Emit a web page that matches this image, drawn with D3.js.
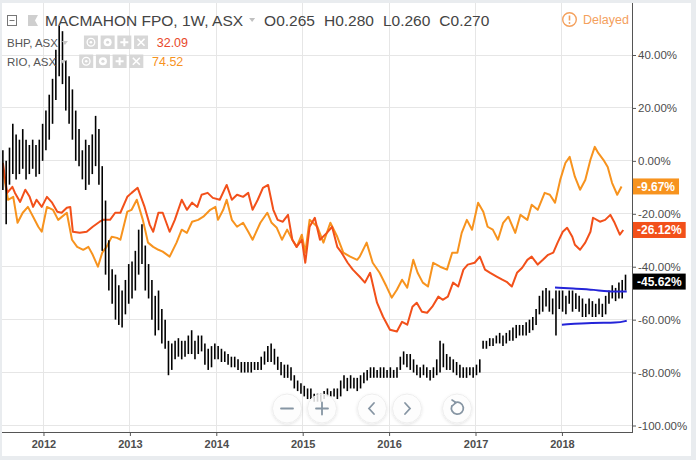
<!DOCTYPE html>
<html><head><meta charset="utf-8">
<script src="https://cdn.jsdelivr.net/npm/d3@7"></script>
<style>
html,body{margin:0;padding:0;background:#e9ecef;overflow:hidden;}
svg{display:block;font-family:"Liberation Sans",Arial,sans-serif;}
</style></head><body>
<svg id="c" width="696" height="460"></svg>
<script>
// ---------- data ----------
const yearTicks = [2012, 2013, 2014, 2015, 2016, 2017, 2018];
const pctTicks = [40, 20, 0, -20, -40, -60, -80, -100];

// MACMAHON FPO weekly bars (sampled every 2 weeks), % change, from 2011.53
const barStartYear = 2011.53;
const barStepDays = 14;
const mmHigh = [4,0,5,14,10,8,12,8,6,8,
  6,8,14,19,25,31,42,51,49,38,
  32,27,19,12,4,8,6,10,17,12,
  -2,-15,-30,-41,-43,-47,-49,-45,-39,-38,
  -34,-26,-24,-32,-39,-45,-51,-49,-56,-60,
  -68,-69,-68,-67,-68,-68,-66,-64,-68,-66,
  -66,-69,-71,-70,-69,-70,-71,-72,-73,-74,
  -74,-75,-76,-76,-76,-76,-76,-76,-74,-72,
  -70,-69,-71,-74,-76,-77,-77,-78,-81,-83,
  -84,-85,-86,-86,-88,-88,-88,-87,-86,-87,
  -86,-86,-83,-81,-82,-81,-82,-82,-81,-80,
  -79,-78,-78,-79,-78,-78,-79,-78,-79,-78,
  -74,-72,-73,-73,-75,-77,-78,-77,-78,-79,
  -78,-75,-68,-69,-73,-74,-75,-76,-77,-78,
  -78,-78,-78,-77,-75,-68,-68,-67,-67,-66,
  -65,-66,-65,-64,-63,-62,-62,-62,-61,-60,
  -59,-56,-51,-49,-48,-49,-52,-49,-49,-49,
  -51,-49,-49,-50,-51,-52,-54,-52,-53,-54,
  -52,-54,-51,-49,-47,-48,-46,-45,-43];
const mmLow = [-11,-24,-9,-5,-7,-5,-3,-7,-5,-3,
  -6,-5,0,4,8,14,23,32,29,19,
  14,8,0,-2,-7,-11,-9,-5,-2,-9,
  -34,-43,-49,-54,-60,-62,-63,-58,-54,-52,
  -49,-43,-39,-49,-52,-60,-66,-64,-69,-71,
  -81,-79,-75,-74,-75,-74,-73,-73,-75,-73,
  -72,-77,-79,-78,-75,-75,-76,-76,-77,-78,
  -78,-79,-80,-80,-80,-80,-79,-79,-79,-77,
  -76,-76,-77,-79,-81,-82,-82,-83,-86,-87,
  -88,-89,-90,-90,-91,-91,-91,-90,-89,-89,
  -89,-90,-89,-86,-87,-86,-86,-87,-86,-84,
  -83,-82,-82,-82,-82,-82,-82,-82,-82,-82,
  -79,-77,-78,-79,-80,-81,-82,-81,-82,-83,
  -82,-81,-80,-78,-79,-79,-80,-81,-82,-82,
  -82,-81,-82,-81,-80,-71,-71,-70,-70,-69,
  -69,-70,-69,-68,-68,-67,-66,-66,-66,-65,
  -64,-62,-58,-57,-55,-57,-58,-66,-56,-57,
  -58,-54,-57,-56,-57,-59,-59,-58,-59,-59,
  -58,-59,-58,-54,-52,-53,-52,-52,-49];
const mmLastClose = -45.62;

// BHP, ASX (% change)  [decimal year, %]
const bhp = [[2011.53,-0.8],[2011.58,-12.1],[2011.64,-9.8],[2011.67,-12.1],[2011.73,-15.5],[2011.79,-10.9],[2011.84,-13.6],[2011.88,-17.4],[2011.92,-14.7],[2011.98,-17.4],
[2012.04,-13.6],[2012.10,-15.8],[2012.16,-19.2],[2012.21,-19.6],[2012.27,-17.7],[2012.31,-17.4],[2012.34,-26.8],[2012.42,-27.2],[2012.50,-26.8],[2012.57,-24.9],
[2012.65,-23.0],[2012.69,-22.3],[2012.77,-22.3],[2012.83,-19.6],[2012.89,-19.6],[2012.97,-13.6],[2013.02,-12.1],[2013.09,-10.2],[2013.17,-17.4],[2013.23,-24.2],
[2013.27,-26.8],[2013.33,-19.6],[2013.38,-19.6],[2013.46,-26.8],[2013.52,-22.3],[2013.60,-14.7],[2013.66,-18.5],[2013.72,-15.8],[2013.78,-17.4],[2013.83,-12.8],
[2013.90,-12.1],[2013.96,-14.0],[2014.04,-14.7],[2014.12,-9.1],[2014.18,-14.7],[2014.24,-12.8],[2014.31,-13.6],[2014.37,-12.1],[2014.42,-18.5],[2014.48,-14.7],
[2014.54,-10.2],[2014.60,-9.1],[2014.66,-18.5],[2014.71,-22.3],[2014.77,-23.0],[2014.83,-20.4],[2014.88,-29.8],[2014.93,-32.5],[2014.99,-29.8],[2015.03,-38.5],
[2015.08,-24.9],[2015.14,-21.5],[2015.20,-29.8],[2015.28,-27.2],[2015.34,-24.9],[2015.40,-32.5],[2015.45,-34.7],[2015.52,-38.5],[2015.58,-41.1],[2015.66,-43.8],
[2015.72,-46.0],[2015.78,-42.3],[2015.86,-53.6],[2015.93,-58.9],[2016.01,-63.8],[2016.09,-64.5],[2016.15,-60.8],[2016.21,-61.9],[2016.27,-55.1],[2016.32,-53.6],
[2016.38,-57.0],[2016.44,-57.4],[2016.50,-55.1],[2016.57,-51.3],[2016.62,-52.5],[2016.68,-51.3],[2016.74,-46.0],[2016.80,-47.5],[2016.86,-41.1],[2016.91,-39.2],
[2016.99,-38.5],[2017.05,-36.2],[2017.11,-41.1],[2017.17,-42.3],[2017.25,-43.8],[2017.31,-44.9],[2017.36,-45.7],[2017.42,-47.5],[2017.48,-42.3],[2017.54,-40.4],
[2017.60,-37.4],[2017.65,-36.2],[2017.72,-39.2],[2017.78,-37.4],[2017.84,-35.5],[2017.90,-34.7],[2017.95,-30.9],[2018.01,-26.8],[2018.06,-25.3],[2018.12,-28.7],
[2018.15,-31.7],[2018.21,-33.6],[2018.27,-30.9],[2018.33,-26.8],[2018.36,-21.5],[2018.44,-23.0],[2018.50,-22.3],[2018.56,-20.4],[2018.61,-23.4],[2018.67,-27.9],[2018.71,-26.12]];

// RIO, ASX (% change)  [decimal year, %]
const rio = [[2011.53,-3.4],[2011.59,-14.7],[2011.65,-13.6],[2011.70,-23.4],[2011.76,-19.6],[2011.82,-17.4],[2011.88,-21.1],[2011.94,-24.9],[2011.98,-26.8],
[2012.04,-17.4],[2012.11,-18.5],[2012.17,-22.3],[2012.27,-19.6],[2012.33,-29.8],[2012.39,-32.5],[2012.46,-33.6],[2012.52,-32.5],[2012.57,-35.5],[2012.63,-40.0],
[2012.68,-34.7],[2012.73,-32.5],[2012.79,-28.7],[2012.85,-29.1],[2012.89,-29.8],[2012.97,-19.2],[2013.02,-18.5],[2013.08,-14.7],[2013.15,-22.3],[2013.21,-30.9],
[2013.27,-32.5],[2013.33,-33.6],[2013.38,-34.3],[2013.46,-36.2],[2013.54,-30.9],[2013.60,-26.0],[2013.66,-27.2],[2013.72,-23.0],[2013.79,-22.3],[2013.85,-21.1],
[2013.93,-18.5],[2013.99,-17.4],[2014.02,-22.3],[2014.08,-18.5],[2014.12,-14.7],[2014.18,-22.3],[2014.24,-24.9],[2014.31,-23.4],[2014.37,-26.8],[2014.42,-29.8],
[2014.51,-23.4],[2014.59,-19.6],[2014.64,-23.4],[2014.70,-25.3],[2014.76,-29.8],[2014.82,-26.0],[2014.88,-29.8],[2014.93,-32.5],[2014.99,-27.9],[2015.03,-34.7],
[2015.08,-22.3],[2015.17,-24.9],[2015.24,-30.9],[2015.32,-23.4],[2015.40,-28.7],[2015.47,-34.7],[2015.55,-36.2],[2015.63,-37.4],[2015.66,-36.2],[2015.74,-30.9],
[2015.81,-38.5],[2015.89,-42.3],[2015.97,-47.5],[2016.03,-51.7],[2016.09,-48.7],[2016.15,-44.9],[2016.21,-47.9],[2016.28,-37.4],[2016.33,-42.3],[2016.39,-46.0],
[2016.45,-47.5],[2016.51,-38.5],[2016.59,-40.0],[2016.67,-41.1],[2016.73,-34.7],[2016.79,-34.7],[2016.84,-27.2],[2016.90,-22.3],[2016.96,-26.0],[2017.03,-15.8],
[2017.09,-19.2],[2017.14,-24.9],[2017.20,-26.0],[2017.26,-29.8],[2017.32,-23.4],[2017.38,-21.1],[2017.46,-27.2],[2017.52,-20.4],[2017.60,-22.3],[2017.65,-16.6],
[2017.72,-18.5],[2017.80,-12.1],[2017.86,-12.8],[2017.92,-15.8],[2017.98,-7.2],[2018.04,-0.8],[2018.09,1.5],[2018.15,-6.0],[2018.21,-10.9],[2018.27,-7.2],
[2018.33,0.4],[2018.38,5.3],[2018.42,3.0],[2018.48,0.4],[2018.53,-2.3],[2018.58,-8.3],[2018.64,-12.8],[2018.69,-9.67]];

// drawn channel lines (blue)
const channelUpper = [[2017.92,-47.9],[2018.17,-48.3],[2018.38,-48.7],[2018.52,-49.4],[2018.75,-49.4]];
const channelLower = [[2018.00,-61.9],[2018.36,-61.1],[2018.64,-61.3],[2018.75,-60.4]];

const titleText = "MACMAHON FPO, 1W, ASX";
const ohlcLetters = ["O", "H", "L", "C"];
const ohlcValues = ["0.265", "0.280", "0.260", "0.270"];
const legendNames = ["BHP, ASX", "RIO, ASX"];
const legendValues = ["32.09", "74.52"];
const lastValues = [-9.67, -26.12, mmLastClose];

// ---------- styles ----------
const C_BHP = "#f2501a", C_RIO = "#f7931e", C_MM = "#000000", C_BLUE = "#2424d8";
const C_GRID = "#e6e6e6", C_AXIS = "#555555", C_TEXT = "#4d4d4d";
const plot = {l: 2, r: 632, t: 3, b: 432};

const svg = d3.select("#c");
svg.append("rect").attr("x", 2).attr("y", 3).attr("width", 689).attr("height", 453).attr("fill", "#fff");

const defs = svg.append("defs");
defs.append("clipPath").attr("id", "clip").append("rect")
  .attr("x", plot.l).attr("y", plot.t).attr("width", plot.r - plot.l).attr("height", plot.b - plot.t);
const f = defs.append("filter").attr("id", "sh").attr("x", "-50%").attr("y", "-50%").attr("width", "200%").attr("height", "200%");
f.append("feDropShadow").attr("dx", 0).attr("dy", 1).attr("stdDeviation", 1.5).attr("flood-color", "#000").attr("flood-opacity", 0.12);

const x = d3.scaleLinear().domain([2011.52, 2018.811]).range([plot.l, plot.r]);
const y = d3.scaleLinear().domain([-100, 40]).range([425.5, 55]);

// grid
const grid = svg.append("g");
grid.selectAll(".vg").data(yearTicks).join("line")
  .attr("x1", d => x(d)).attr("x2", d => x(d)).attr("y1", plot.t).attr("y2", plot.b)
  .attr("stroke", C_GRID).attr("stroke-width", 1).attr("shape-rendering", "crispEdges");
grid.selectAll(".hg").data(pctTicks).join("line")
  .attr("x1", plot.l).attr("x2", plot.r).attr("y1", d => y(d)).attr("y2", d => y(d))
  .attr("stroke", C_GRID).attr("stroke-width", 1).attr("shape-rendering", "crispEdges");

// series
const g = svg.append("g").attr("clip-path", "url(#clip)");
const line = d3.line().x(d => x(d[0])).y(d => y(d[1]));
g.append("path").datum(rio).attr("d", line).attr("fill", "none").attr("stroke", C_RIO)
  .attr("stroke-width", 2).attr("stroke-linejoin", "round");
g.append("path").datum(bhp).attr("d", line).attr("fill", "none").attr("stroke", C_BHP)
  .attr("stroke-width", 2).attr("stroke-linejoin", "round");

const bars = mmHigh.map((h, i) => ({t: barStartYear + i * barStepDays / 365.25, h: h, l: mmLow[i]}));
g.selectAll(".bar").data(bars).join("line")
  .attr("x1", d => x(d.t)).attr("x2", d => x(d.t))
  .attr("y1", d => y(d.h)).attr("y2", d => y(d.l))
  .attr("stroke", C_MM).attr("stroke-width", 1.6);

g.append("path").datum(channelUpper).attr("d", d3.line().curve(d3.curveBasis).x(d => x(d[0])).y(d => y(d[1])))
  .attr("fill", "none").attr("stroke", C_BLUE).attr("stroke-width", 2);
g.append("path").datum(channelLower).attr("d", d3.line().curve(d3.curveBasis).x(d => x(d[0])).y(d => y(d[1])))
  .attr("fill", "none").attr("stroke", C_BLUE).attr("stroke-width", 2);

// axes
const xAxis = svg.append("g").attr("transform", `translate(0,${plot.b})`)
  .call(d3.axisBottom(x).tickValues(yearTicks).tickFormat(d3.format("d")).tickSize(4).tickSizeOuter(0).tickPadding(4));
xAxis.select(".domain").remove();
xAxis.selectAll("line").attr("stroke", C_AXIS);
xAxis.selectAll("text").attr("fill", C_TEXT).attr("font-size", 11).attr("font-weight", "bold")
  .attr("font-family", "'Liberation Sans', Arial, sans-serif");
svg.append("line").attr("x1", plot.l).attr("x2", plot.r + 0.5).attr("y1", plot.b + 0.5).attr("y2", plot.b + 0.5)
  .attr("stroke", C_AXIS).attr("stroke-width", 1);

const yAxis = svg.append("g").attr("transform", `translate(${plot.r},0)`)
  .call(d3.axisRight(y).tickValues(pctTicks).tickFormat(d => d.toFixed(2) + "%").tickSize(4).tickSizeOuter(0).tickPadding(2));
yAxis.select(".domain").remove();
yAxis.selectAll("line").attr("stroke", C_AXIS);
yAxis.selectAll("text").attr("fill", C_TEXT).attr("font-size", 11.5)
  .attr("font-family", "'Liberation Sans', Arial, sans-serif");
svg.append("line").attr("x1", plot.r + 0.5).attr("x2", plot.r + 0.5).attr("y1", plot.t).attr("y2", plot.b + 1)
  .attr("stroke", C_AXIS).attr("stroke-width", 1);

// last value labels
const lastColors = [C_RIO, C_BHP, "#000"];
lastValues.forEach((v, i) => {
  const lg = svg.append("g");
  const t = lg.append("text").attr("x", plot.r + 5).attr("y", y(v)).attr("dy", "0.35em")
    .attr("fill", "#fff").attr("font-size", 12).attr("font-weight", "bold")
    .text(v.toFixed(2) + "%");
  const w = t.node().getComputedTextLength();
  lg.insert("rect", "text").attr("x", plot.r + 1).attr("y", y(v) - 8).attr("width", w + 8).attr("height", 16)
    .attr("fill", lastColors[i]);
});

// header
const hd = svg.append("g");
hd.append("rect").attr("x", 7.5).attr("y", 15.5).attr("width", 9).attr("height", 10).attr("fill", "none").attr("stroke", "#777");
hd.append("line").attr("x1", 9.5).attr("x2", 14.5).attr("y1", 20.5).attr("y2", 20.5).attr("stroke", "#777");
hd.append("path").attr("d", "M28,15 H38 L35,20.5 L38,26 H28 Z").attr("fill", "#cfcfcf");
const title = hd.append("text").attr("x", 45).attr("y", 26).attr("font-size", 15.5).attr("fill", "#444").text(titleText);
let tx = 45 + title.node().getComputedTextLength() + 6;
hd.append("path").attr("d", `M${tx},18 l6,0 l-3,4 z`).attr("fill", "#c0c0c0");
tx += 15;
ohlcLetters.forEach((L, i) => {
  const t = hd.append("text").attr("x", tx).attr("y", 26).attr("font-size", 15.5).attr("fill", "#444")
    .text(L + ohlcValues[i]);
  tx += t.node().getComputedTextLength() + 9;
});

// legend rows
const legendColors = ["#e8482a", C_RIO];
legendNames.forEach((nm, i) => {
  const by = 47 + i * 19;
  const t = svg.append("text").attr("x", 7).attr("y", by).attr("font-size", 11.5).attr("fill", "#555").text(nm);
  let lx = 7 + t.node().getComputedTextLength() + 4;
  svg.append("path").attr("d", `M${lx},${by - 6} l6,0 l-3,4 z`).attr("fill", "#c8c8c8");
  lx += 19 + (i === 0 ? 3 : 0);
  for (let k = 0; k < 4; k++) {
    const bx = lx + k * 16.7, byy = by - 11.5;
    svg.append("rect").attr("x", bx).attr("y", byy).attr("width", 14).attr("height", 13.5).attr("fill", "#d7d7d7");
    const cx = bx + 7, cy = byy + 6.75;
    if (k === 0) {
      svg.append("circle").attr("cx", cx).attr("cy", cy).attr("r", 3.8).attr("fill", "none").attr("stroke", "#fff").attr("stroke-width", 1.3);
      svg.append("circle").attr("cx", cx).attr("cy", cy).attr("r", 1.3).attr("fill", "#fff");
    } else if (k === 1) {
      svg.append("circle").attr("cx", cx).attr("cy", cy).attr("r", 4).attr("fill", "#fff");
      svg.append("circle").attr("cx", cx).attr("cy", cy).attr("r", 1.6).attr("fill", "#d7d7d7");
    } else if (k === 2) {
      svg.append("path").attr("d", `M${cx - 4},${cy} H${cx + 4} M${cx},${cy - 4} V${cy + 4}`).attr("stroke", "#fff").attr("stroke-width", 2);
    } else {
      svg.append("path").attr("d", `M${cx - 3.5},${cy - 3.5} L${cx + 3.5},${cy + 3.5} M${cx + 3.5},${cy - 3.5} L${cx - 3.5},${cy + 3.5}`).attr("stroke", "#fff").attr("stroke-width", 1.6);
    }
  }
  lx += 4 * 16.7 + 6;
  svg.append("text").attr("x", lx).attr("y", by).attr("font-size", 12.5).attr("fill", legendColors[i]).text(legendValues[i]);
});

// delayed badge
const C_DEL = "#f4a05c";
svg.append("circle").attr("cx", 569.5).attr("cy", 19.5).attr("r", 6.8).attr("fill", "none").attr("stroke", C_DEL).attr("stroke-width", 1.4);
svg.append("line").attr("x1", 569.5).attr("x2", 569.5).attr("y1", 15.5).attr("y2", 20.5).attr("stroke", C_DEL).attr("stroke-width", 1.6);
svg.append("circle").attr("cx", 569.5).attr("cy", 23).attr("r", 0.9).attr("fill", C_DEL);
svg.append("text").attr("x", 583).attr("y", 24).attr("font-size", 12.5).attr("fill", C_DEL).text("Delayed");

// navigation buttons
const navX = [287, 322, 372, 407, 457], navY = 408.5;
const C_NAV = "#8695a3";
navX.forEach((cx, i) => {
  svg.append("circle").attr("cx", cx).attr("cy", navY).attr("r", 14.5)
    .attr("fill", "rgba(255,255,255,0.82)").attr("stroke", "#eeeeee").attr("filter", "url(#sh)");
  let d;
  if (i === 0) d = `M${cx - 6},${navY} H${cx + 6}`;
  else if (i === 1) d = `M${cx - 6},${navY} H${cx + 6} M${cx},${navY - 6} V${navY + 6}`;
  else if (i === 2) d = `M${cx + 2},${navY - 5.5} L${cx - 3},${navY} L${cx + 2},${navY + 5.5}`;
  else if (i === 3) d = `M${cx - 2},${navY - 5.5} L${cx + 3},${navY} L${cx - 2},${navY + 5.5}`;
  else d = `M${cx - 2},${navY - 5.8} A6,6 0 1,1 ${cx - 5.2},${navY - 2.5}`;
  svg.append("path").attr("d", d).attr("fill", "none").attr("stroke", C_NAV).attr("stroke-width", 1.8).attr("stroke-linecap", "round");
  if (i === 4) svg.append("path").attr("d", `M${cx - 5},${navY - 8.5} L${cx - 1},${navY - 5.8} L${cx - 4.5},${navY - 2.8}`)
    .attr("fill", "none").attr("stroke", C_NAV).attr("stroke-width", 1.6).attr("stroke-linecap", "round");
});
</script>
</body></html>
